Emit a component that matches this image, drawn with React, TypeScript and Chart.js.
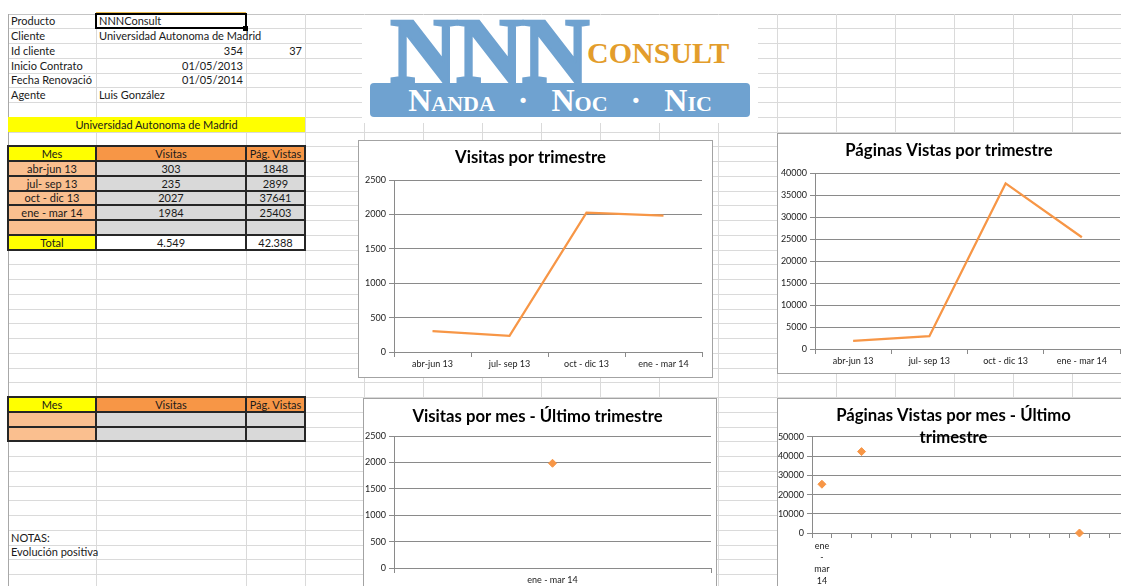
import React, { useEffect, useRef } from "react";
import { Chart, registerables } from "chart.js";

Chart.register(...registerables);

// ---------------- data ----------------
const quarters = ["abr-jun 13", "jul- sep 13", "oct - dic 13", "ene - mar 14"];
const visitas = [303, 235, 2027, 1984];
const paginasVistas = [1848, 2899, 37641, 25403];
const totalLabels = ["4.549", "42.388"];
const tableHeaders = ["Mes", "Visitas", "Pág. Vistas"];

const lastQuarter = ["ene - mar 14"];
const visitasMes = [1984];

const paginasMesLabels = ["ene - mar 14", "", "", "", "", "", "", "", "", "", "", "", "", "", "", ""];
const paginasMes: (number | null)[] = [25403, null, 42388, null, null, null, null, null, null, null, null, null, null, 0, null, null];

const visitasTicks = [0, 500, 1000, 1500, 2000, 2500];
const paginasTicks = [0, 5000, 10000, 15000, 20000, 25000, 30000, 35000, 40000];
const paginasMesTicks = [0, 10000, 20000, 30000, 40000, 50000];

const titleVisitas = "Visitas por trimestre";
const titlePaginas = "Páginas Vistas por trimestre";
const titleVisitasMes = "Visitas por mes - Último trimestre";
const titlePaginasMes = ["Páginas Vistas por mes - Último", "trimestre"];

const infoLabels = ["Producto", "Cliente", "Id cliente", "Inicio Contrato", "Fecha Renovació", "Agente"];
const infoValues = ["NNNConsult", "Universidad Autonoma de Madrid", "354", "01/05/2013", "01/05/2014", "Luis González"];
const clientName = "Universidad Autonoma de Madrid";

// ---------------- style ----------------
const ORANGE = "#F79646";
const GRID = "#8a8a8a";
const FONT = "Lato, 'Noto Sans', sans-serif";
const SERIF = "'Liberation Serif', 'DejaVu Serif', serif";
const LOGO_BLUE = "#6fa2d0";
const LOGO_GOLD = "#e39d2b";
const YELLOW = "#FFFF00";
const PEACH = "#FABF8F";
const GREY = "#D9D9D9";
const CELL_LINE = "#dadada";
const BORDER = "#262626";
const TITLE_SIZE = 16.7;

const ROW0 = 13.5;
const RH = 14.75;
const rowY = (i: number) => Math.round(ROW0 + RH * i);
const COLS = [8, 96, 246, 305, 364, 423, 482, 541, 600, 659, 718, 777, 836, 895, 954, 1013, 1072, 1131];

type CfgParams = {
  labels: (string | string[])[];
  data: (number | null)[];
  markers: boolean;
  yTicks: number[];
  title: string | string[];
  titleTop: number;
  titleBottom: number;
  titleLineHeight: number;
  yWidth: number;
  xHeight: number;
  padRight: number;
  labelLineHeight: number;
};

function buildConfig(p: CfgParams): any {
  const tickFont = { family: FONT, size: 9, lineHeight: p.labelLineHeight };
  return {
    type: "line",
    data: {
      labels: p.labels,
      datasets: [
        {
          data: p.data,
          borderColor: ORANGE,
          backgroundColor: ORANGE,
          borderWidth: p.markers ? 1 : 2.25,
          showLine: !p.markers,
          pointRadius: p.markers ? 4 : 0,
          pointHoverRadius: 0,
          pointStyle: "rectRot",
          tension: 0,
          spanGaps: false,
          clip: false,
        },
      ],
    },
    options: {
      responsive: false,
      animation: false,
      devicePixelRatio: 1,
      events: [],
      layout: { padding: { left: 0, right: p.padRight, top: 0, bottom: 0 } },
      plugins: {
        legend: { display: false },
        tooltip: { enabled: false },
        title: {
          display: true,
          text: p.title,
          color: "#000",
          font: { family: FONT, size: TITLE_SIZE, weight: "bold", lineHeight: p.titleLineHeight },
          padding: { top: p.titleTop, bottom: p.titleBottom },
        },
      },
      scales: {
        x: {
          type: "category",
          offset: true,
          grid: { display: true, drawOnChartArea: false, drawTicks: true, tickLength: 5, offset: true, color: GRID },
          border: { display: true, color: GRID },
          ticks: { autoSkip: false, maxRotation: 0, minRotation: 0, padding: 2, color: "#1a1a1a", font: tickFont },
          afterFit: (s: any) => {
            s.height = p.xHeight;
          },
        },
        y: {
          min: p.yTicks[0],
          max: p.yTicks[p.yTicks.length - 1],
          afterBuildTicks: (s: any) => {
            s.ticks = p.yTicks.map((v) => ({ value: v }));
          },
          grid: { color: GRID, tickLength: 5, drawTicks: true },
          border: { display: true, color: GRID },
          ticks: { padding: 3, color: "#1a1a1a", font: { family: FONT, size: 9 }, callback: (v: any) => String(v) },
          afterFit: (s: any) => {
            s.width = p.yWidth;
          },
        },
      },
    },
  };
}

function ChartBox(props: { left: number; top: number; width: number; height: number; params: CfgParams }) {
  const ref = useRef<HTMLCanvasElement | null>(null);
  const { left, top, width, height, params } = props;
  useEffect(() => {
    if (!ref.current) return;
    const chart = new Chart(ref.current, buildConfig(params));
    return () => chart.destroy();
  }, []);
  return (
    <div
      style={{
        position: "absolute",
        left,
        top,
        width,
        height,
        border: "1px solid #a3a3a3",
        background: "#fff",
        boxSizing: "border-box",
      }}
    >
      <canvas ref={ref} width={width - 2} height={height - 2} style={{ display: "block", width: width - 2, height: height - 2 }} />
    </div>
  );
}

function Cell(props: {
  r: number;
  c0: number;
  c1?: number;
  bg?: string;
  text?: string;
  align?: "left" | "right" | "center";
  spill?: boolean;
}) {
  const { r, c0, bg, text, align, spill } = props;
  const c1 = props.c1 ?? c0 + 1;
  const x = COLS[c0];
  const y = rowY(r);
  const w = COLS[c1] - x;
  const h = rowY(r + 1) - y;
  return (
    <div
      style={{
        position: "absolute",
        left: x,
        top: y,
        width: w,
        height: h,
        background: bg,
        textAlign: align || "left",
        lineHeight: h + "px",
        padding: "0 3px",
        boxSizing: "border-box",
        overflow: spill ? "visible" : "hidden",
        whiteSpace: "nowrap",
        fontSize: 11,
      }}
    >
      {text}
    </div>
  );
}

function Line(props: { x: number; y: number; w: number; h: number; color: string }) {
  return <div style={{ position: "absolute", left: props.x, top: props.y, width: props.w, height: props.h, background: props.color }} />;
}

function TableBorders(props: { r0: number; r1: number }) {
  const out: any[] = [];
  const { r0, r1 } = props;
  for (let r = r0; r <= r1 + 1; r++) {
    out.push(<Line key={"h" + r} x={COLS[0] - 1} y={rowY(r) - 1} w={COLS[3] - COLS[0] + 2} h={2} color={BORDER} />);
  }
  for (let c = 0; c <= 3; c++) {
    out.push(<Line key={"v" + c} x={COLS[c] - 1} y={rowY(r0) - 1} w={2} h={rowY(r1 + 1) - rowY(r0) + 2} color={BORDER} />);
  }
  return <>{out}</>;
}

function Logo() {
  return (
    <div style={{ position: "absolute", left: 362, top: 15, width: 396, height: 108, background: "#fff", overflow: "hidden" }}>
      <div
        style={{
          position: "absolute",
          left: 28,
          top: -12,
          font: `bold 94px ${SERIF}`,
          lineHeight: "94px",
          letterSpacing: -2,
          color: LOGO_BLUE,
          WebkitTextStroke: `2.5px ${LOGO_BLUE}`,
          whiteSpace: "nowrap",
        }}
      >
        NNN
      </div>
      <div
        style={{
          position: "absolute",
          left: 225,
          top: 23,
          font: `bold 30px ${SERIF}`,
          lineHeight: "30px",
          color: LOGO_GOLD,
          whiteSpace: "nowrap",
        }}
      >
        CONSULT
      </div>
      <div
        style={{
          position: "absolute",
          left: 8,
          top: 68,
          width: 380,
          height: 34,
          background: LOGO_BLUE,
          borderRadius: 4,
          color: "#fff",
          textAlign: "center",
          font: `bold 32px ${SERIF}`,
          fontVariant: "small-caps",
          lineHeight: "34px",
          wordSpacing: 15,
          whiteSpace: "nowrap",
        }}
      >
        Nanda · Noc · Nic
      </div>
    </div>
  );
}

export default function App() {
  const gridLines: any[] = [];
  for (let i = 0; i <= 40; i++) {
    gridLines.push(<Line key={"gh" + i} x={COLS[0]} y={rowY(i)} w={1121 - COLS[0]} h={1} color={i === 0 ? "#c4c4c4" : CELL_LINE} />);
  }
  COLS.forEach((x, i) => {
    gridLines.push(<Line key={"gv" + i} x={x} y={rowY(0)} w={1} h={586} color={i === 0 ? "#a8a8a8" : CELL_LINE} />);
  });

  const cells: any[] = [];
  infoLabels.forEach((t, i) => {
    cells.push(<Cell key={"il" + i} r={i} c0={0} text={t} />);
  });
  infoValues.forEach((t, i) => {
    const numeric = /^[0-9/]+$/.test(t);
    cells.push(<Cell key={"iv" + i} r={i} c0={1} text={t} align={numeric ? "right" : "left"} spill={!numeric} />);
  });
  cells.push(<Cell key="id2" r={2} c0={2} text="37" align="right" />);
  cells.push(<Cell key="client" r={7} c0={0} c1={3} bg={YELLOW} text={clientName} align="center" />);

  // upper table
  cells.push(<Cell key="h0" r={9} c0={0} bg={YELLOW} text={tableHeaders[0]} align="center" />);
  cells.push(<Cell key="h1" r={9} c0={1} bg={ORANGE} text={tableHeaders[1]} align="center" />);
  cells.push(<Cell key="h2" r={9} c0={2} bg={ORANGE} text={tableHeaders[2]} align="center" />);
  quarters.forEach((q, i) => {
    cells.push(<Cell key={"q" + i} r={10 + i} c0={0} bg={PEACH} text={q} align="center" />);
    cells.push(<Cell key={"v" + i} r={10 + i} c0={1} bg={GREY} text={String(visitas[i])} align="center" />);
    cells.push(<Cell key={"p" + i} r={10 + i} c0={2} bg={GREY} text={String(paginasVistas[i])} align="center" />);
  });
  cells.push(<Cell key="e0" r={14} c0={0} bg={PEACH} />);
  cells.push(<Cell key="e1" r={14} c0={1} bg={GREY} />);
  cells.push(<Cell key="e2" r={14} c0={2} bg={GREY} />);
  cells.push(<Cell key="t0" r={15} c0={0} bg={YELLOW} text="Total" align="center" />);
  cells.push(<Cell key="t1" r={15} c0={1} bg="#fff" text={totalLabels[0]} align="center" />);
  cells.push(<Cell key="t2" r={15} c0={2} bg="#fff" text={totalLabels[1]} align="center" />);

  // lower table
  cells.push(<Cell key="lh0" r={26} c0={0} bg={YELLOW} text={tableHeaders[0]} align="center" />);
  cells.push(<Cell key="lh1" r={26} c0={1} bg={ORANGE} text={tableHeaders[1]} align="center" />);
  cells.push(<Cell key="lh2" r={26} c0={2} bg={ORANGE} text={tableHeaders[2]} align="center" />);
  [27, 28].forEach((r) => {
    cells.push(<Cell key={"la" + r} r={r} c0={0} bg={PEACH} />);
    cells.push(<Cell key={"lb" + r} r={r} c0={1} bg={GREY} />);
    cells.push(<Cell key={"lc" + r} r={r} c0={2} bg={GREY} />);
  });
  cells.push(<Cell key="notas" r={35} c0={0} text="NOTAS:" />);
  cells.push(<Cell key="evo" r={36} c0={0} c1={2} text="Evolución positiva" />);

  return (
    <div
      style={{
        position: "fixed",
        left: 0,
        top: 0,
        width: 1121,
        height: 586,
        overflow: "hidden",
        background: "#fff",
        fontFamily: FONT,
        color: "#1a1a1a",
      }}
    >
      {gridLines}
      {cells}
      <TableBorders r0={9} r1={15} />
      <TableBorders r0={26} r1={28} />
      <Line x={96} y={12} w={150} h={2} color="#e9b949" />
      <div
        style={{
          position: "absolute",
          left: 95,
          top: rowY(0) - 1,
          width: 152,
          height: rowY(1) - rowY(0) + 2,
          border: "2px solid #000",
          boxSizing: "border-box",
        }}
      />
      <Line x={243} y={rowY(1) - 2} w={5} h={5} color="#000" />
      <Logo />

      <ChartBox
        left={358}
        top={140}
        width={355}
        height={238}
        params={{
          labels: quarters,
          data: visitas,
          markers: false,
          yTicks: visitasTicks,
          title: titleVisitas,
          titleTop: 7,
          titleBottom: 12,
          titleLineHeight: 1.2,
          yWidth: 35,
          xHeight: 25,
          padRight: 10,
          labelLineHeight: 1.2,
        }}
      />
      <ChartBox
        left={777}
        top={133}
        width={360}
        height={241}
        params={{
          labels: quarters,
          data: paginasVistas,
          markers: false,
          yTicks: paginasTicks,
          title: titlePaginas,
          titleTop: 7,
          titleBottom: 12,
          titleLineHeight: 1.2,
          yWidth: 37,
          xHeight: 24,
          padRight: 16,
          labelLineHeight: 1.2,
        }}
      />
      <ChartBox
        left={363}
        top={398}
        width={354}
        height={200}
        params={{
          labels: lastQuarter,
          data: visitasMes,
          markers: true,
          yTicks: visitasTicks,
          title: titleVisitasMes,
          titleTop: 8,
          titleBottom: 9,
          titleLineHeight: 1.2,
          yWidth: 30,
          xHeight: 29,
          padRight: 5,
          labelLineHeight: 1.2,
        }}
      />
      <ChartBox
        left={777}
        top={398}
        width={380}
        height={200}
        params={{
          labels: paginasMesLabels.map((l) => (l ? l.split(" ") : "")),
          data: paginasMes,
          markers: true,
          yTicks: paginasMesTicks,
          title: titlePaginasMes,
          titleTop: 6,
          titleBottom: -12,
          titleLineHeight: 22 / TITLE_SIZE,
          yWidth: 34,
          xHeight: 64,
          padRight: 27,
          labelLineHeight: 1.3,
        }}
      />
    </div>
  );
}
